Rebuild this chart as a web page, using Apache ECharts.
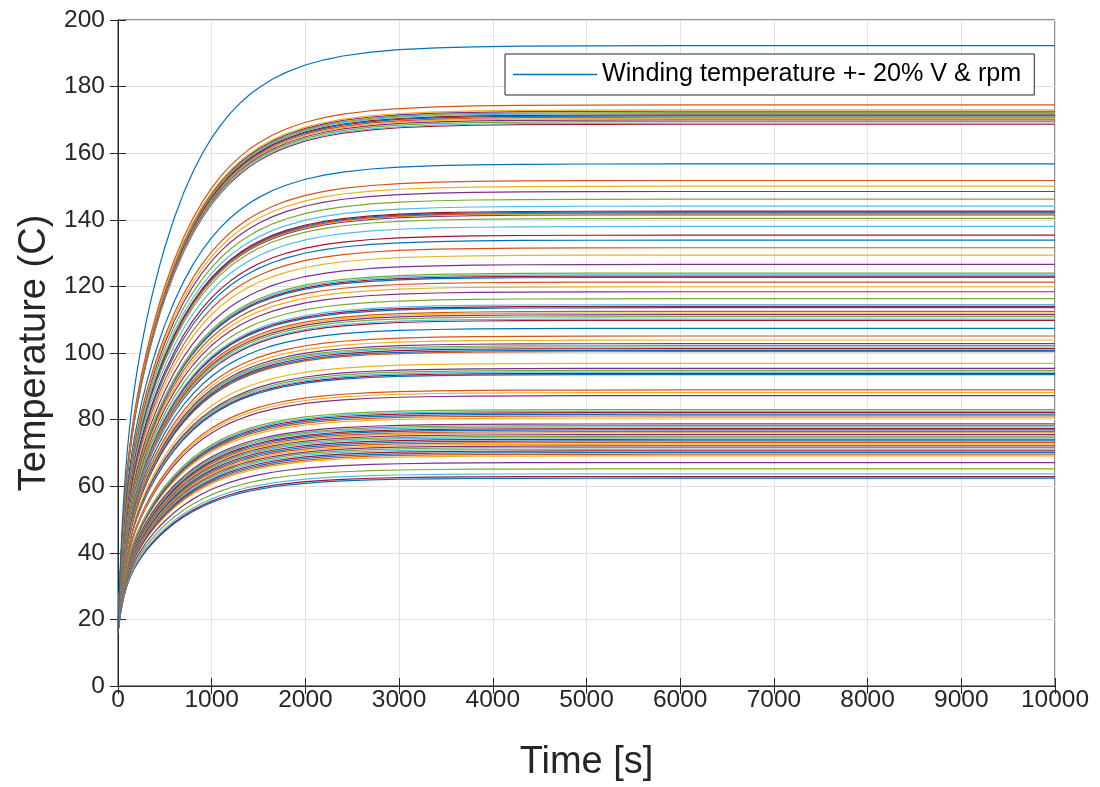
<!DOCTYPE html>
<html>
<head>
<meta charset="utf-8">
<title>Winding temperature</title>
<script src="https://cdn.jsdelivr.net/npm/echarts@6/dist/echarts.min.js"></script>
<style>
  html, body { margin: 0; padding: 0; background: #ffffff; }
  #chart { width: 1100px; height: 787px; }
</style>
</head>
<body>
<div id="chart"></div>
<script>
// Sample times of every run [s]
const times = [0, 10, 20, 30, 40, 50, 60, 80, 100, 125, 150, 175, 200, 250, 300, 350, 400, 450,
  500, 600, 700, 800, 900, 1000, 1100, 1200, 1300, 1400, 1500, 1650, 1800, 2000, 2200, 2400,
  2700, 3000, 3400, 3800, 4300, 5000, 6000, 10000];

// Fraction of the total rise reached at each sample time (shared by all runs)
const riseFraction = [0, 0.050, 0.094, 0.1328, 0.1672, 0.1976, 0.2251, 0.2722, 0.3113, 0.352,
  0.3862, 0.4159, 0.4424, 0.4886, 0.529, 0.5652, 0.5982, 0.6286, 0.6566, 0.7063, 0.7488,
  0.7851, 0.8162, 0.8428, 0.8655, 0.885, 0.9016, 0.9158, 0.928, 0.9431, 0.9549, 0.9671,
  0.9759, 0.9824, 0.989, 0.9931, 0.9963, 0.998, 0.9991, 0.9997, 1, 1];

// Starting (ambient) winding temperature [C]
const startTemp = 16;

// Settled winding temperature of each run [C], in plotting order
const steadyTemps = [
  192.3, 174.5, 173.0, 172.6, 172.2, 171.9, 171.5, 171.2, 170.8, 170.4, 170.0, 169.5, 169.0, 168.7,
  156.8, 151.8, 150.1, 148.5, 146.2, 144.1,
  142.6, 142.3, 142.0, 141.8, 141.5,
  140.4, 138.0, 135.4, 133.9, 131.6, 129.4, 126.6,
  124.0, 123.5, 123.1, 122.7, 121.3, 119.9, 118.4, 116.3,
  114.5, 114.0, 113.6, 112.5, 112.0, 111.5, 110.9, 110.2, 109.8,
  107.4, 105.1, 103.9, 102.8, 102.2, 101.8, 101.3, 100.8, 100.4,
  96.9, 95.4, 94.8, 94.3, 93.9, 93.5,
  88.9, 88.1, 87.2,
  83.0, 82.5, 82.1, 81.6, 81.1, 80.5,
  78.7, 78.2, 77.8, 77.3, 76.9, 76.4, 76.0, 75.5, 75.0, 74.6, 74.1, 73.6, 73.1,
  72.6, 72.1, 71.6, 71.1, 70.6, 70.1, 69.6, 69.1,
  67.1, 65.2, 63.7, 62.9, 62.4
];

// Axis ticks
const xTicks = [0, 1000, 2000, 3000, 4000, 5000, 6000, 7000, 8000, 9000, 10000];
const yTicks = [0, 20, 40, 60, 80, 100, 120, 140, 160, 180, 200];

// Default line colour order, cycled over the runs
const palette = ['#0072BD', '#D95319', '#EDB120', '#7E2F8E', '#77AC30', '#4DBEEE', '#A2142F'];

const legendName = 'Winding temperature +- 20% V & rpm';
const font = '"Liberation Sans", Arial, Helvetica, sans-serif';
const ink = '#262626';
const gridGray = '#e2e2e2';

const series = steadyTemps.map((tss, k) => ({
  name: k === 0 ? legendName : 'run ' + (k + 1),
  type: 'line',
  symbol: 'none',
  silent: true,
  animation: false,
  lineStyle: { width: 1.2, color: palette[k % palette.length] },
  itemStyle: { color: palette[k % palette.length] },
  z: 10 + (steadyTemps.length - k),
  data: times.map((t, i) => [t, startTemp + (tss - startTemp) * riseFraction[i]])
}));

const plainNumber = v => String(v);

const chart = echarts.init(document.getElementById('chart'), null, { renderer: 'canvas' });
chart.setOption({
  backgroundColor: '#ffffff',
  animation: false,
  textStyle: { fontFamily: font },
  grid: {
    left: 118, right: 45, top: 20, bottom: 101,
    containLabel: false, outerBoundsMode: 'none',
    show: true, borderColor: ink, borderWidth: 1, backgroundColor: 'transparent'
  },
  legend: {
    data: [{ name: legendName, icon: 'rect' }],
    left: 505, top: 54,
    padding: [6, 13, 6, 8],
    itemWidth: 84, itemHeight: 1.5,
    borderColor: ink, borderWidth: 1,
    backgroundColor: '#ffffff',
    textStyle: { fontFamily: font, fontSize: 25.2, color: '#000000', lineHeight: 29 },
    z: 100
  },
  xAxis: [{
    type: 'value', min: xTicks[0], max: xTicks[xTicks.length - 1], interval: 1000,
    name: 'Time [s]', nameLocation: 'middle', nameGap: 58,
    nameTextStyle: { fontFamily: font, fontSize: 38, color: ink },
    axisLine: { show: true, onZero: false, lineStyle: { color: ink, width: 1 } },
    axisTick: { show: true, inside: true, length: 8, lineStyle: { color: ink } },
    axisLabel: { fontFamily: font, fontSize: 24.5, color: ink, margin: 2, formatter: plainNumber },
    splitLine: { show: true, lineStyle: { color: gridGray, width: 1 } }
  }, {
    type: 'value', position: 'top', min: xTicks[0], max: xTicks[xTicks.length - 1], interval: 1000,
    axisLine: { show: true, lineStyle: { color: ink } },
    axisTick: { show: true, inside: true, length: 8, lineStyle: { color: ink } },
    axisLabel: { show: false }, splitLine: { show: false }
  }],
  yAxis: [{
    type: 'value', min: yTicks[0], max: yTicks[yTicks.length - 1], interval: 20,
    name: 'Temperature (C)', nameLocation: 'middle', nameGap: 64, nameRotate: 90,
    nameTextStyle: { fontFamily: font, fontSize: 38, color: ink },
    axisLine: { show: true, onZero: false, lineStyle: { color: ink, width: 1 } },
    axisTick: { show: true, inside: true, length: 8, lineStyle: { color: ink } },
    axisLabel: { fontFamily: font, fontSize: 24.5, color: ink, margin: 13, formatter: plainNumber },
    splitLine: { show: true, lineStyle: { color: gridGray, width: 1 } }
  }, {
    type: 'value', position: 'right', min: yTicks[0], max: yTicks[yTicks.length - 1], interval: 20,
    axisLine: { show: true, lineStyle: { color: ink } },
    axisTick: { show: true, inside: true, length: 8, lineStyle: { color: ink } },
    axisLabel: { show: false }, splitLine: { show: false }
  }],
  series: series
});
</script>
</body>
</html>
